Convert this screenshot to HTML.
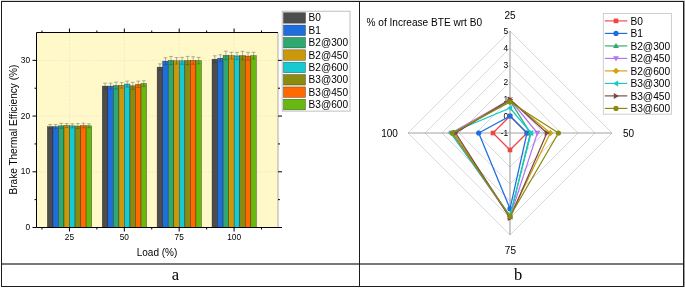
<!DOCTYPE html>
<html><head><meta charset="utf-8"><title>Figure</title>
<style>
html,body{margin:0;padding:0;background:#fff;}
body{width:685px;height:288px;overflow:hidden;position:relative;font-family:"Liberation Sans",sans-serif;}
svg{position:absolute;left:0;top:0;display:block}
text{font-family:"Liberation Sans",sans-serif;fill:#000}
.ser{font-family:"Liberation Serif",serif}
</style></head><body>
<svg width="685" height="288" viewBox="0 0 685 288">
<rect x="0" y="0" width="685" height="288" fill="#fff"/>

<rect x="1" y="0" width="684" height="1" fill="#dcdcdc"/>
<rect x="684" y="1" width="1" height="286" fill="#9a9a9a"/>
<rect x="1" y="263" width="683" height="2" fill="#787878"/>
<g fill="#1c1c1c">
<rect x="1" y="1" width="683" height="1"/>
<rect x="1" y="286" width="683" height="1"/>
<rect x="1" y="1" width="1" height="286"/>
<rect x="683" y="1" width="1" height="286"/>
<rect x="359" y="1" width="1" height="286"/>
</g>
<text class="ser" x="175.5" y="280" font-size="16.5" text-anchor="middle">a</text>
<text class="ser" x="518" y="280" font-size="16.5" text-anchor="middle">b</text>
<rect x="36.5" y="32.5" width="241.5" height="195.0" fill="#fff8c9"/>
<g stroke="#e3dfbd" stroke-width="0.5" stroke-dasharray="2 1.5">
<line x1="69.43" y1="32.5" x2="69.43" y2="227.5"/>
<line x1="124.32" y1="32.5" x2="124.32" y2="227.5"/>
<line x1="179.20" y1="32.5" x2="179.20" y2="227.5"/>
<line x1="234.09" y1="32.5" x2="234.09" y2="227.5"/>
<line x1="36.5" y1="171.79" x2="278.0" y2="171.79"/>
<line x1="36.5" y1="116.07" x2="278.0" y2="116.07"/>
<line x1="36.5" y1="60.36" x2="278.0" y2="60.36"/>
</g>
<rect x="47.37" y="126.66" width="5.54" height="100.84" fill="#4d4d4d" stroke="#000" stroke-opacity="0.55" stroke-width="0.55"/>
<path d="M50.14 128.72V124.59M48.24 124.59h3.8M48.24 128.72h3.8" stroke="#333" stroke-width="0.36" fill="none"/>
<rect x="52.91" y="126.66" width="5.54" height="100.84" fill="#1f6ee0" stroke="#000" stroke-opacity="0.55" stroke-width="0.55"/>
<path d="M55.68 128.72V124.59M53.78 124.59h3.8M53.78 128.72h3.8" stroke="#333" stroke-width="0.36" fill="none"/>
<rect x="58.45" y="125.82" width="5.54" height="101.68" fill="#2fa96f" stroke="#000" stroke-opacity="0.55" stroke-width="0.55"/>
<path d="M61.22 128.32V123.32M59.32 123.32h3.8M59.32 128.32h3.8" stroke="#333" stroke-width="0.36" fill="none"/>
<rect x="63.99" y="125.54" width="5.54" height="101.96" fill="#c9990b" stroke="#000" stroke-opacity="0.55" stroke-width="0.55"/>
<path d="M66.76 127.53V123.56M64.86 123.56h3.8M64.86 127.53h3.8" stroke="#333" stroke-width="0.36" fill="none"/>
<rect x="69.53" y="125.82" width="5.54" height="101.68" fill="#17c9d1" stroke="#000" stroke-opacity="0.55" stroke-width="0.55"/>
<path d="M72.30 127.91V123.74M70.40 123.74h3.8M70.40 127.91h3.8" stroke="#333" stroke-width="0.36" fill="none"/>
<rect x="75.07" y="126.10" width="5.54" height="101.40" fill="#8b8b0f" stroke="#000" stroke-opacity="0.55" stroke-width="0.55"/>
<path d="M77.84 128.59V123.61M75.94 123.61h3.8M75.94 128.59h3.8" stroke="#333" stroke-width="0.36" fill="none"/>
<rect x="80.61" y="125.54" width="5.54" height="101.96" fill="#ff6a00" stroke="#000" stroke-opacity="0.55" stroke-width="0.55"/>
<path d="M83.38 127.84V123.24M81.48 123.24h3.8M81.48 127.84h3.8" stroke="#333" stroke-width="0.36" fill="none"/>
<rect x="86.15" y="125.82" width="5.54" height="101.68" fill="#68b90f" stroke="#000" stroke-opacity="0.55" stroke-width="0.55"/>
<path d="M88.92 127.80V123.84M87.02 123.84h3.8M87.02 127.80h3.8" stroke="#333" stroke-width="0.36" fill="none"/>
<rect x="102.26" y="86.10" width="5.54" height="141.40" fill="#4d4d4d" stroke="#000" stroke-opacity="0.55" stroke-width="0.55"/>
<path d="M105.03 89.00V83.20M103.13 83.20h3.8M103.13 89.00h3.8" stroke="#333" stroke-width="0.36" fill="none"/>
<rect x="107.80" y="86.10" width="5.54" height="141.40" fill="#1f6ee0" stroke="#000" stroke-opacity="0.55" stroke-width="0.55"/>
<path d="M110.57 89.00V83.20M108.67 83.20h3.8M108.67 89.00h3.8" stroke="#333" stroke-width="0.36" fill="none"/>
<rect x="113.34" y="85.60" width="5.54" height="141.90" fill="#2fa96f" stroke="#000" stroke-opacity="0.55" stroke-width="0.55"/>
<path d="M116.11 89.09V82.10M114.21 82.10h3.8M114.21 89.09h3.8" stroke="#333" stroke-width="0.36" fill="none"/>
<rect x="118.88" y="85.32" width="5.54" height="142.18" fill="#c9990b" stroke="#000" stroke-opacity="0.55" stroke-width="0.55"/>
<path d="M121.65 88.09V82.55M119.75 82.55h3.8M119.75 88.09h3.8" stroke="#333" stroke-width="0.36" fill="none"/>
<rect x="124.42" y="84.04" width="5.54" height="143.46" fill="#17c9d1" stroke="#000" stroke-opacity="0.55" stroke-width="0.55"/>
<path d="M127.19 86.98V81.09M125.29 81.09h3.8M125.29 86.98h3.8" stroke="#333" stroke-width="0.36" fill="none"/>
<rect x="129.96" y="85.82" width="5.54" height="141.68" fill="#8b8b0f" stroke="#000" stroke-opacity="0.55" stroke-width="0.55"/>
<path d="M132.73 89.30V82.33M130.83 82.33h3.8M130.83 89.30h3.8" stroke="#333" stroke-width="0.36" fill="none"/>
<rect x="135.50" y="84.37" width="5.54" height="143.13" fill="#ff6a00" stroke="#000" stroke-opacity="0.55" stroke-width="0.55"/>
<path d="M138.27 87.60V81.14M136.37 81.14h3.8M136.37 87.60h3.8" stroke="#333" stroke-width="0.36" fill="none"/>
<rect x="141.04" y="83.53" width="5.54" height="143.97" fill="#68b90f" stroke="#000" stroke-opacity="0.55" stroke-width="0.55"/>
<path d="M143.81 86.34V80.73M141.91 80.73h3.8M141.91 86.34h3.8" stroke="#333" stroke-width="0.36" fill="none"/>
<rect x="157.14" y="67.15" width="5.54" height="160.35" fill="#4d4d4d" stroke="#000" stroke-opacity="0.55" stroke-width="0.55"/>
<path d="M159.91 70.44V63.87M158.01 63.87h3.8M158.01 70.44h3.8" stroke="#333" stroke-width="0.36" fill="none"/>
<rect x="162.68" y="61.19" width="5.54" height="166.31" fill="#1f6ee0" stroke="#000" stroke-opacity="0.55" stroke-width="0.55"/>
<path d="M165.45 64.60V57.78M163.55 57.78h3.8M163.55 64.60h3.8" stroke="#333" stroke-width="0.36" fill="none"/>
<rect x="168.22" y="60.52" width="5.54" height="166.98" fill="#2fa96f" stroke="#000" stroke-opacity="0.55" stroke-width="0.55"/>
<path d="M170.99 64.63V56.42M169.09 56.42h3.8M169.09 64.63h3.8" stroke="#333" stroke-width="0.36" fill="none"/>
<rect x="173.76" y="60.80" width="5.54" height="166.70" fill="#c9990b" stroke="#000" stroke-opacity="0.55" stroke-width="0.55"/>
<path d="M176.53 64.05V57.56M174.63 57.56h3.8M174.63 64.05h3.8" stroke="#333" stroke-width="0.36" fill="none"/>
<rect x="179.30" y="60.80" width="5.54" height="166.70" fill="#17c9d1" stroke="#000" stroke-opacity="0.55" stroke-width="0.55"/>
<path d="M182.07 64.22V57.39M180.17 57.39h3.8M180.17 64.22h3.8" stroke="#333" stroke-width="0.36" fill="none"/>
<rect x="184.84" y="60.52" width="5.54" height="166.98" fill="#8b8b0f" stroke="#000" stroke-opacity="0.55" stroke-width="0.55"/>
<path d="M187.61 64.63V56.42M185.71 56.42h3.8M185.71 64.63h3.8" stroke="#333" stroke-width="0.36" fill="none"/>
<rect x="190.38" y="60.52" width="5.54" height="166.98" fill="#ff6a00" stroke="#000" stroke-opacity="0.55" stroke-width="0.55"/>
<path d="M193.15 64.29V56.76M191.25 56.76h3.8M191.25 64.29h3.8" stroke="#333" stroke-width="0.36" fill="none"/>
<rect x="195.92" y="60.64" width="5.54" height="166.86" fill="#68b90f" stroke="#000" stroke-opacity="0.55" stroke-width="0.55"/>
<path d="M198.69 63.89V57.39M196.79 57.39h3.8M196.79 63.89h3.8" stroke="#333" stroke-width="0.36" fill="none"/>
<rect x="212.03" y="59.24" width="5.54" height="168.26" fill="#4d4d4d" stroke="#000" stroke-opacity="0.55" stroke-width="0.55"/>
<path d="M214.80 62.69V55.79M212.90 55.79h3.8M212.90 62.69h3.8" stroke="#333" stroke-width="0.36" fill="none"/>
<rect x="217.57" y="58.24" width="5.54" height="169.26" fill="#1f6ee0" stroke="#000" stroke-opacity="0.55" stroke-width="0.55"/>
<path d="M220.34 61.71V54.77M218.44 54.77h3.8M218.44 61.71h3.8" stroke="#333" stroke-width="0.36" fill="none"/>
<rect x="223.11" y="55.40" width="5.54" height="172.10" fill="#2fa96f" stroke="#000" stroke-opacity="0.55" stroke-width="0.55"/>
<path d="M225.88 59.63V51.16M223.98 51.16h3.8M223.98 59.63h3.8" stroke="#333" stroke-width="0.36" fill="none"/>
<rect x="228.65" y="55.62" width="5.54" height="171.88" fill="#c9990b" stroke="#000" stroke-opacity="0.55" stroke-width="0.55"/>
<path d="M231.42 58.97V52.27M229.52 52.27h3.8M229.52 58.97h3.8" stroke="#333" stroke-width="0.36" fill="none"/>
<rect x="234.19" y="55.90" width="5.54" height="171.60" fill="#17c9d1" stroke="#000" stroke-opacity="0.55" stroke-width="0.55"/>
<path d="M236.96 59.42V52.38M235.06 52.38h3.8M235.06 59.42h3.8" stroke="#333" stroke-width="0.36" fill="none"/>
<rect x="239.73" y="55.62" width="5.54" height="171.88" fill="#8b8b0f" stroke="#000" stroke-opacity="0.55" stroke-width="0.55"/>
<path d="M242.50 59.85V51.39M240.60 51.39h3.8M240.60 59.85h3.8" stroke="#333" stroke-width="0.36" fill="none"/>
<rect x="245.27" y="56.12" width="5.54" height="171.38" fill="#ff6a00" stroke="#000" stroke-opacity="0.55" stroke-width="0.55"/>
<path d="M248.04 59.99V52.26M246.14 52.26h3.8M246.14 59.99h3.8" stroke="#333" stroke-width="0.36" fill="none"/>
<rect x="250.81" y="55.62" width="5.54" height="171.88" fill="#68b90f" stroke="#000" stroke-opacity="0.55" stroke-width="0.55"/>
<path d="M253.58 58.97V52.27M251.68 52.27h3.8M251.68 58.97h3.8" stroke="#333" stroke-width="0.36" fill="none"/>
<g stroke="#000" stroke-width="1" fill="none">
<path d="M278.0 32.5H36.5V227.5H278.0"/>
<line x1="278.0" y1="32.5" x2="278.0" y2="227.5" stroke="#777" stroke-width="0.6"/>
<line x1="69.43" y1="32.5" x2="69.43" y2="28.5"/>
<line x1="69.43" y1="227.5" x2="69.43" y2="231.5"/>
<line x1="124.32" y1="32.5" x2="124.32" y2="28.5"/>
<line x1="124.32" y1="227.5" x2="124.32" y2="231.5"/>
<line x1="179.20" y1="32.5" x2="179.20" y2="28.5"/>
<line x1="179.20" y1="227.5" x2="179.20" y2="231.5"/>
<line x1="234.09" y1="32.5" x2="234.09" y2="28.5"/>
<line x1="234.09" y1="227.5" x2="234.09" y2="231.5"/>
<line x1="41.99" y1="32.5" x2="41.99" y2="30.5"/>
<line x1="41.99" y1="227.5" x2="41.99" y2="229.5"/>
<line x1="96.88" y1="32.5" x2="96.88" y2="30.5"/>
<line x1="96.88" y1="227.5" x2="96.88" y2="229.5"/>
<line x1="151.76" y1="32.5" x2="151.76" y2="30.5"/>
<line x1="151.76" y1="227.5" x2="151.76" y2="229.5"/>
<line x1="206.65" y1="32.5" x2="206.65" y2="30.5"/>
<line x1="206.65" y1="227.5" x2="206.65" y2="229.5"/>
<line x1="261.53" y1="32.5" x2="261.53" y2="30.5"/>
<line x1="261.53" y1="227.5" x2="261.53" y2="229.5"/>
<line x1="36.5" y1="227.50" x2="32.5" y2="227.50"/>
<line x1="278.0" y1="227.50" x2="282.0" y2="227.50"/>
<line x1="36.5" y1="171.79" x2="32.5" y2="171.79"/>
<line x1="278.0" y1="171.79" x2="282.0" y2="171.79"/>
<line x1="36.5" y1="116.07" x2="32.5" y2="116.07"/>
<line x1="278.0" y1="116.07" x2="282.0" y2="116.07"/>
<line x1="36.5" y1="60.36" x2="32.5" y2="60.36"/>
<line x1="278.0" y1="60.36" x2="282.0" y2="60.36"/>
<line x1="36.5" y1="199.64" x2="34.5" y2="199.64"/>
<line x1="278.0" y1="199.64" x2="280.0" y2="199.64"/>
<line x1="36.5" y1="143.93" x2="34.5" y2="143.93"/>
<line x1="278.0" y1="143.93" x2="280.0" y2="143.93"/>
<line x1="36.5" y1="88.21" x2="34.5" y2="88.21"/>
<line x1="278.0" y1="88.21" x2="280.0" y2="88.21"/>
</g>
<text x="30.0" y="230.20" font-size="8.3" text-anchor="end">0</text>
<text x="30.0" y="174.49" font-size="8.3" text-anchor="end">10</text>
<text x="30.0" y="118.77" font-size="8.3" text-anchor="end">20</text>
<text x="30.0" y="63.06" font-size="8.3" text-anchor="end">30</text>
<text x="69.43" y="240.4" font-size="8.3" text-anchor="middle">25</text>
<text x="124.32" y="240.4" font-size="8.3" text-anchor="middle">50</text>
<text x="179.20" y="240.4" font-size="8.3" text-anchor="middle">75</text>
<text x="234.09" y="240.4" font-size="8.3" text-anchor="middle">100</text>
<text x="157" y="255.6" font-size="10" text-anchor="middle">Load (%)</text>
<text transform="translate(16.7 129.6) rotate(-90)" font-size="10.05" text-anchor="middle">Brake Thermal Efficiency (%)</text>
<rect x="282.2" y="11.2" width="67.8" height="99.9" fill="#fff" stroke="#b0b0b0" stroke-width="0.8"/>
<rect x="283.5" y="12.70" width="22" height="10.5" fill="#4d4d4d" stroke="#000" stroke-opacity="0.5" stroke-width="0.6"/>
<text x="308.6" y="21.40" font-size="10.1">B0</text>
<rect x="283.5" y="25.07" width="22" height="10.5" fill="#1f6ee0" stroke="#000" stroke-opacity="0.5" stroke-width="0.6"/>
<text x="308.6" y="33.77" font-size="10.1">B1</text>
<rect x="283.5" y="37.44" width="22" height="10.5" fill="#2fa96f" stroke="#000" stroke-opacity="0.5" stroke-width="0.6"/>
<text x="308.6" y="46.14" font-size="10.1">B2@300</text>
<rect x="283.5" y="49.81" width="22" height="10.5" fill="#c9990b" stroke="#000" stroke-opacity="0.5" stroke-width="0.6"/>
<text x="308.6" y="58.51" font-size="10.1">B2@450</text>
<rect x="283.5" y="62.18" width="22" height="10.5" fill="#17c9d1" stroke="#000" stroke-opacity="0.5" stroke-width="0.6"/>
<text x="308.6" y="70.88" font-size="10.1">B2@600</text>
<rect x="283.5" y="74.55" width="22" height="10.5" fill="#8b8b0f" stroke="#000" stroke-opacity="0.5" stroke-width="0.6"/>
<text x="308.6" y="83.25" font-size="10.1">B3@300</text>
<rect x="283.5" y="86.92" width="22" height="10.5" fill="#ff6a00" stroke="#000" stroke-opacity="0.5" stroke-width="0.6"/>
<text x="308.6" y="95.62" font-size="10.1">B3@450</text>
<rect x="283.5" y="99.29" width="22" height="10.5" fill="#68b90f" stroke="#000" stroke-opacity="0.5" stroke-width="0.6"/>
<text x="308.6" y="107.99" font-size="10.1">B3@600</text>
<g stroke="#c9c9c9" stroke-width="0.7" fill="none">
<path d="M510.0 116.0L527.0 133.0L510.0 150.0L493.0 133.0Z"/>
<path d="M510.0 99.0L544.0 133.0L510.0 167.0L476.0 133.0Z"/>
<path d="M510.0 82.0L561.0 133.0L510.0 184.0L459.0 133.0Z"/>
<path d="M510.0 65.0L578.0 133.0L510.0 201.0L442.0 133.0Z"/>
<path d="M510.0 48.0L595.0 133.0L510.0 218.0L425.0 133.0Z"/>
<path d="M510.0 31.0L612.0 133.0L510.0 235.0L408.0 133.0Z"/>
</g>
<g stroke="#a4a4a4" stroke-width="1.2"><line x1="408.0" y1="133.0" x2="612.0" y2="133.0"/><line x1="510.0" y1="31.0" x2="510.0" y2="235.0"/></g>
<text x="508.2" y="136.0" font-size="8.4" text-anchor="end">-1</text>
<text x="508.2" y="119.0" font-size="8.4" text-anchor="end">0</text>
<text x="508.2" y="102.0" font-size="8.4" text-anchor="end">1</text>
<text x="508.2" y="85.0" font-size="8.4" text-anchor="end">2</text>
<text x="508.2" y="68.0" font-size="8.4" text-anchor="end">3</text>
<text x="508.2" y="51.0" font-size="8.4" text-anchor="end">4</text>
<text x="508.2" y="34.0" font-size="8.4" text-anchor="end">5</text>
<text x="510.0" y="19.2" font-size="10" text-anchor="middle">25</text>
<text x="628.5" y="136.6" font-size="10" text-anchor="middle">50</text>
<text x="510.4" y="254.2" font-size="10" text-anchor="middle">75</text>
<text x="389.5" y="136.6" font-size="10" text-anchor="middle">100</text>
<text x="366.5" y="25.5" font-size="10.1">% of Increase BTE wrt B0</text>
<path d="M510.00 116.00L527.00 133.00L510.00 150.00L493.00 133.00Z" fill="none" stroke="#f04545" stroke-width="1.25" stroke-linejoin="round"/>
<rect x="507.70" y="113.70" width="4.6" height="4.6" fill="#f04545"/>
<rect x="524.70" y="130.70" width="4.6" height="4.6" fill="#f04545"/>
<rect x="507.70" y="147.70" width="4.6" height="4.6" fill="#f04545"/>
<rect x="490.70" y="130.70" width="4.6" height="4.6" fill="#f04545"/>
<path d="M510.00 116.00L527.00 133.00L510.00 208.65L478.72 133.00Z" fill="none" stroke="#1f6ee0" stroke-width="1.25" stroke-linejoin="round"/>
<circle cx="510.00" cy="116.00" r="2.6" fill="#1f6ee0"/>
<circle cx="527.00" cy="133.00" r="2.6" fill="#1f6ee0"/>
<circle cx="510.00" cy="208.65" r="2.6" fill="#1f6ee0"/>
<circle cx="478.72" cy="133.00" r="2.6" fill="#1f6ee0"/>
<path d="M510.00 100.70L530.40 133.00L510.00 217.15L453.90 133.00Z" fill="none" stroke="#2fa96f" stroke-width="1.25" stroke-linejoin="round"/>
<path d="M510.00 97.70L513.00 102.90H507.00Z" fill="#2fa96f"/>
<path d="M530.40 130.00L533.40 135.20H527.40Z" fill="#2fa96f"/>
<path d="M510.00 214.15L513.00 219.35H507.00Z" fill="#2fa96f"/>
<path d="M453.90 130.00L456.90 135.20H450.90Z" fill="#2fa96f"/>
<path d="M510.00 99.51L537.37 133.00L510.00 217.15L451.35 133.00Z" fill="none" stroke="#b476f0" stroke-width="1.25" stroke-linejoin="round"/>
<path d="M510.00 102.51L513.00 97.31H507.00Z" fill="#b476f0"/>
<path d="M537.37 136.00L540.37 130.80H534.37Z" fill="#b476f0"/>
<path d="M510.00 220.15L513.00 214.95H507.00Z" fill="#b476f0"/>
<path d="M451.35 136.00L454.35 130.80H448.35Z" fill="#b476f0"/>
<path d="M510.00 99.85L550.29 133.00L510.00 216.30L453.90 133.00Z" fill="none" stroke="#d3a00f" stroke-width="1.25" stroke-linejoin="round"/>
<path d="M510.00 96.65L513.20 99.85L510.00 103.05L506.80 99.85Z" fill="#d3a00f"/>
<path d="M550.29 129.80L553.49 133.00L550.29 136.20L547.09 133.00Z" fill="#d3a00f"/>
<path d="M510.00 213.10L513.20 216.30L510.00 219.50L506.80 216.30Z" fill="#d3a00f"/>
<path d="M453.90 129.80L457.10 133.00L453.90 136.20L450.70 133.00Z" fill="#d3a00f"/>
<path d="M510.00 108.01L531.08 133.00L510.00 215.45L450.50 133.00Z" fill="none" stroke="#17c9c9" stroke-width="1.25" stroke-linejoin="round"/>
<path d="M507.00 108.01L512.20 105.01V111.01Z" fill="#17c9c9"/>
<path d="M528.08 133.00L533.28 130.00V136.00Z" fill="#17c9c9"/>
<path d="M507.00 215.45L512.20 212.45V218.45Z" fill="#17c9c9"/>
<path d="M447.50 133.00L452.70 130.00V136.00Z" fill="#17c9c9"/>
<path d="M510.00 99.51L546.89 133.00L510.00 218.00L455.60 133.00Z" fill="none" stroke="#7a4848" stroke-width="1.25" stroke-linejoin="round"/>
<path d="M513.00 99.51L507.80 96.51V102.51Z" fill="#7a4848"/>
<path d="M549.89 133.00L544.69 130.00V136.00Z" fill="#7a4848"/>
<path d="M513.00 218.00L507.80 215.00V221.00Z" fill="#7a4848"/>
<path d="M458.60 133.00L453.40 130.00V136.00Z" fill="#7a4848"/>
<path d="M510.00 102.06L558.45 133.00L510.00 216.30L452.20 133.00Z" fill="none" stroke="#8b8b0f" stroke-width="1.25" stroke-linejoin="round"/>
<circle cx="510.00" cy="102.06" r="2.6" fill="#8b8b0f"/>
<circle cx="558.45" cy="133.00" r="2.6" fill="#8b8b0f"/>
<circle cx="510.00" cy="216.30" r="2.6" fill="#8b8b0f"/>
<circle cx="452.20" cy="133.00" r="2.6" fill="#8b8b0f"/>
<rect x="603.3" y="13.5" width="68.2" height="100.7" fill="#fff" stroke="#c4c4c4" stroke-width="0.8"/>
<line x1="604.8" y1="20.90" x2="627.3" y2="20.90" stroke="#f04545" stroke-width="1.15"/>
<rect x="613.70" y="18.60" width="4.6" height="4.6" fill="#f04545"/>
<text x="630.4" y="24.60" font-size="10.2">B0</text>
<line x1="604.8" y1="33.40" x2="627.3" y2="33.40" stroke="#1f6ee0" stroke-width="1.15"/>
<circle cx="616.00" cy="33.40" r="2.6" fill="#1f6ee0"/>
<text x="630.4" y="37.10" font-size="10.2">B1</text>
<line x1="604.8" y1="45.90" x2="627.3" y2="45.90" stroke="#2fa96f" stroke-width="1.15"/>
<path d="M616.00 42.90L619.00 48.10H613.00Z" fill="#2fa96f"/>
<text x="630.4" y="49.60" font-size="10.2">B2@300</text>
<line x1="604.8" y1="58.40" x2="627.3" y2="58.40" stroke="#b476f0" stroke-width="1.15"/>
<path d="M616.00 61.40L619.00 56.20H613.00Z" fill="#b476f0"/>
<text x="630.4" y="62.10" font-size="10.2">B2@450</text>
<line x1="604.8" y1="70.90" x2="627.3" y2="70.90" stroke="#d3a00f" stroke-width="1.15"/>
<path d="M616.00 67.70L619.20 70.90L616.00 74.10L612.80 70.90Z" fill="#d3a00f"/>
<text x="630.4" y="74.60" font-size="10.2">B2@600</text>
<line x1="604.8" y1="83.40" x2="627.3" y2="83.40" stroke="#17c9c9" stroke-width="1.15"/>
<path d="M613.00 83.40L618.20 80.40V86.40Z" fill="#17c9c9"/>
<text x="630.4" y="87.10" font-size="10.2">B3@300</text>
<line x1="604.8" y1="95.90" x2="627.3" y2="95.90" stroke="#7a4848" stroke-width="1.15"/>
<path d="M619.00 95.90L613.80 92.90V98.90Z" fill="#7a4848"/>
<text x="630.4" y="99.60" font-size="10.2">B3@450</text>
<line x1="604.8" y1="108.40" x2="627.3" y2="108.40" stroke="#8b8b0f" stroke-width="1.15"/>
<circle cx="616.00" cy="108.40" r="2.6" fill="#8b8b0f"/>
<text x="630.4" y="112.10" font-size="10.2">B3@600</text>
</svg></body></html>
